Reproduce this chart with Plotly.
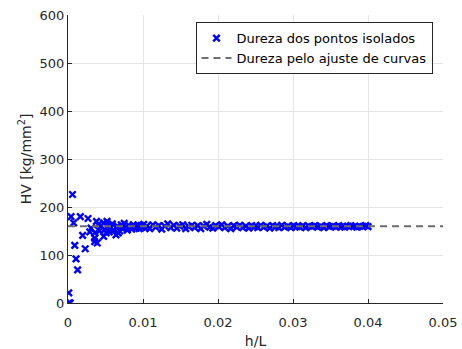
import plotly.graph_objects as go

# Isolated hardness points (h/L, HV)
h_over_L = [
    0.0001, 0.0002, 0.0003, 0.0001, 0.0004, 0.0006, 0.00075, 0.0009, 0.00107, 0.00128,
    0.00164, 0.00195, 0.0023, 0.00267, 0.0029, 0.00307, 0.00355, 0.00355, 0.0036, 0.0038,
    0.0039, 0.0040, 0.0042, 0.0044, 0.00475, 0.0049, 0.00475, 0.0051, 0.0052, 0.0054,
    0.0055, 0.0057, 0.0059, 0.0061, 0.0064, 0.0066, 0.0067, 0.0069, 0.0071, 0.0073,
    0.0075, 0.0077, 0.0079, 0.0081, 0.0083, 0.0085, 0.0087, 0.0089, 0.0091, 0.0093,
    0.0095, 0.0097, 0.0099, 0.0101, 0.0103, 0.0105, 0.0109, 0.0113, 0.0117, 0.0121,
    0.0125, 0.0129, 0.0133, 0.0137, 0.0141, 0.0145, 0.0149, 0.0153, 0.0157, 0.0161,
    0.0165, 0.0169, 0.0173, 0.0177, 0.0181, 0.0185, 0.0189, 0.0193, 0.0197, 0.0201,
    0.0205, 0.0209, 0.0213, 0.0217, 0.0221, 0.0225, 0.0229, 0.0233, 0.0237, 0.0241,
    0.0245, 0.0249, 0.0253, 0.0257, 0.0261, 0.0265, 0.0269, 0.0273, 0.0277, 0.0281,
    0.0285, 0.0289, 0.0293, 0.0297, 0.0301, 0.0305, 0.0309, 0.0313, 0.0317, 0.0321,
    0.0325, 0.0329, 0.0333, 0.0337, 0.0341, 0.0345, 0.0349, 0.0353, 0.0357, 0.0361,
    0.0365, 0.0369, 0.0373, 0.0377, 0.0381, 0.0385, 0.0389, 0.0393, 0.0397, 0.0400,
]
hv_points = [
    0, 0, 0, 21, 180, 226, 167, 120, 92, 69,
    180, 141, 113, 176, 148, 156, 128, 135, 146, 170,
    125, 163, 150, 160, 167, 153, 139, 146, 170, 161,
    148, 158, 165, 152, 142, 160, 146, 150, 163, 155,
    166, 157, 152, 162, 158, 154, 163, 159, 156, 162,
    155, 161, 158, 164, 156, 160, 155, 163, 158, 161,
    154, 160, 165, 157, 162, 156, 160, 163, 155, 159,
    162, 157, 161, 155, 160, 164, 158, 156, 161, 159,
    163, 157, 160, 155, 161, 158, 162, 157, 160, 156,
    161, 159, 157, 162, 158, 160, 156, 161, 159, 157,
    162, 158, 160, 157, 161, 159, 158, 161, 157, 160,
    159, 161, 158, 160, 157, 161, 159, 160, 158, 161,
    159, 158, 160, 161, 159, 158, 160, 159, 161, 159,
]

# Curve-fit hardness (constant)
fit_x = [0.0, 0.05]
fit_hv = [160, 160]

x_ticks = [0, 0.01, 0.02, 0.03, 0.04, 0.05]
x_tick_labels = ["0", "0.01", "0.02", "0.03", "0.04", "0.05"]
y_ticks = [0, 100, 200, 300, 400, 500, 600]

FONT = "DejaVu Sans"
AX = "#262626"

fig = go.Figure()
fig.add_trace(go.Scatter(
    x=h_over_L, y=hv_points, mode="markers",
    name="Dureza dos pontos isolados",
    marker=dict(symbol="x-thin", size=6.5, color="#0000ff",
                line=dict(width=2.4, color="#0000ff")),
))
fig.add_trace(go.Scatter(
    x=fit_x, y=fit_hv, mode="lines",
    name="Dureza pelo ajuste de curvas",
    line=dict(color="#6e6e6e", width=2, dash="7px,5px"),
))

fig.update_layout(
    width=462, height=349,
    margin=dict(l=68, r=19, t=15, b=46),
    paper_bgcolor="white", plot_bgcolor="white",
    font=dict(family=FONT, size=13, color=AX),
    showlegend=True,
    legend=dict(
        x=0.972, y=0.975, xanchor="right", yanchor="top",
        bgcolor="white", bordercolor=AX, borderwidth=1,
        font=dict(family=FONT, size=13, color="black"),
        tracegroupgap=0, itemwidth=30,
    ),
)
fig.update_xaxes(
    range=[0, 0.05], tickvals=x_ticks, ticktext=x_tick_labels,
    showgrid=True, gridcolor="#e6e6e6", gridwidth=1,
    showline=True, linecolor=AX, linewidth=1, mirror=False,
    ticks="inside", ticklen=4, tickcolor=AX, zeroline=False,
    ticklabelstandoff=7, automargin=False,
    title=dict(text="h/L", font=dict(family=FONT, size=14, color=AX), standoff=12),
    tickfont=dict(family=FONT, size=13, color=AX),
)
fig.update_yaxes(
    range=[0, 600], tickvals=y_ticks,
    showgrid=True, gridcolor="#e6e6e6", gridwidth=1,
    showline=True, linecolor=AX, linewidth=1, mirror=False,
    ticks="inside", ticklen=4, tickcolor=AX, zeroline=False,
    automargin=False,
    title=dict(text="HV [kg/mm<sup>2</sup>]", font=dict(family=FONT, size=14, color=AX), standoff=4),
    tickfont=dict(family=FONT, size=13, color=AX),
)

fig.write_html("out.html")
